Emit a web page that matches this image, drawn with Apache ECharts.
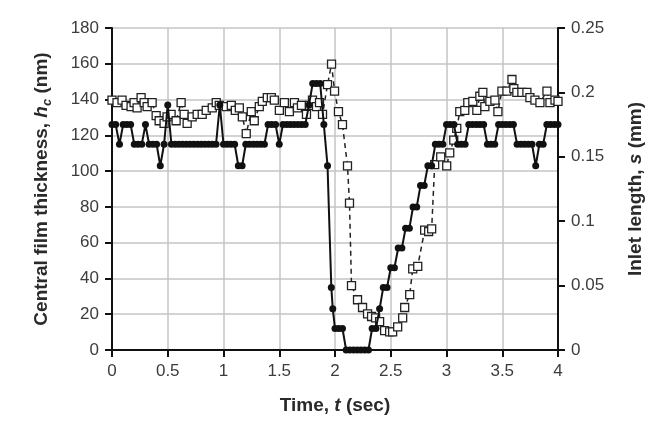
<!DOCTYPE html>
<html>
<head>
<meta charset="utf-8">
<script src="https://cdn.jsdelivr.net/npm/echarts@6/dist/echarts.min.js"></script>
<style>html,body{margin:0;padding:0;background:#fff}#c{width:668px;height:428px}</style>
</head>
<body>
<div id="c"></div>
<script>
// Central film thickness hc (nm), filled circles, left axis
var hcTime = [0.000,0.033,0.067,0.100,0.133,0.167,0.200,0.233,0.267,0.300,
0.333,0.367,0.400,0.433,0.467,0.500,0.533,0.567,0.600,0.633,
0.667,0.700,0.733,0.767,0.800,0.833,0.867,0.900,0.933,0.967,
1.000,1.033,1.067,1.100,1.133,1.167,1.200,1.233,1.267,1.300,
1.333,1.367,1.400,1.433,1.467,1.500,1.533,1.567,1.600,1.633,
1.667,1.700,1.733,1.767,1.800,1.833,1.867,1.900,1.933,1.967,1.980,
2.000,2.033,2.067,2.100,2.133,2.167,2.200,2.233,2.267,2.300,
2.333,2.367,2.400,2.433,2.467,2.500,2.533,2.567,2.600,2.633,
2.667,2.700,2.733,2.767,2.800,2.833,2.867,2.900,2.933,2.967,
3.000,3.033,3.067,3.100,3.133,3.167,3.200,3.233,3.267,3.300,
3.333,3.367,3.400,3.433,3.467,3.500,3.533,3.567,3.600,3.633,
3.667,3.700,3.733,3.767,3.800,3.833,3.867,3.900,3.933,3.967,4.000];
var hcValue = [126,126,115,126,126,126,115,115,115,126,
115,115,115,103,115,137,115,115,115,115,
115,115,115,115,115,115,115,115,115,137,
115,115,115,115,103,103,115,115,115,115,
115,115,126,126,126,115,126,126,126,126,
126,126,126,137,149,149,149,126,103,35,23,
12,12,12,0,0,0,0,0,0,0,
12,12,23,35,35,46,46,57,57,68,
68,80,80,92,92,103,103,115,115,115,
126,126,126,115,115,115,126,126,126,126,
126,115,115,115,126,126,126,126,126,115,
115,115,115,115,103,115,115,126,126,126,126];

// Inlet length s (mm), open squares, right axis
var sTime = [0.000,0.045,0.090,0.126,0.171,0.198,0.225,0.261,0.288,0.315,
0.360,0.396,0.423,0.467,0.494,0.530,0.575,0.620,0.647,0.674,
0.719,0.764,0.809,0.845,0.899,0.935,0.962,1.025,1.070,1.106,
1.142,1.169,1.204,1.249,1.276,1.321,1.348,1.393,1.429,1.456,
1.501,1.546,1.591,1.636,1.663,1.699,1.744,1.771,1.798,1.834,
1.861,1.888,1.933,1.969,1.996,2.031,2.067,2.112,2.130,2.148,
2.202,2.247,2.292,2.328,2.364,2.400,2.445,2.490,2.517,2.562,
2.607,2.625,2.670,2.697,2.742,2.804,2.840,2.867,2.894,2.948,
3.002,3.029,3.065,3.092,3.119,3.164,3.191,3.236,3.272,3.299,
3.326,3.344,3.389,3.434,3.461,3.497,3.542,3.587,3.604,3.631,
3.676,3.721,3.748,3.793,3.838,3.901,3.928,3.973,4.000];
var sValue = [0.194,0.192,0.194,0.190,0.189,0.192,0.188,0.196,0.192,0.189,
0.192,0.182,0.178,0.176,0.181,0.183,0.178,0.192,0.183,0.176,
0.181,0.183,0.183,0.186,0.188,0.192,0.190,0.189,0.190,0.186,
0.188,0.181,0.168,0.185,0.178,0.189,0.193,0.196,0.196,0.194,
0.186,0.192,0.185,0.192,0.188,0.190,0.183,0.190,0.194,0.189,
0.192,0.183,0.206,0.222,0.201,0.185,0.175,0.143,0.114,0.050,
0.039,0.033,0.028,0.026,0.025,0.022,0.015,0.014,0.014,0.018,
0.025,0.033,0.043,0.063,0.065,0.093,0.092,0.094,0.144,0.150,
0.143,0.153,0.163,0.172,0.185,0.186,0.192,0.193,0.186,0.197,
0.200,0.189,0.193,0.194,0.185,0.201,0.201,0.210,0.203,0.200,
0.200,0.200,0.196,0.194,0.192,0.201,0.192,0.194,0.193];

var xTicks = {min: 0, max: 4, interval: 0.5};
var leftTicks = {min: 0, max: 180, interval: 20};
var rightTicks = {min: 0, max: 0.25, interval: 0.05};

function pairs(t, v) { return t.map(function (x, i) { return [x, v[i]]; }); }

var FONT = 'Arial, "Liberation Sans", sans-serif';
var labelStyle = {color: '#3c3c3c', fontSize: 17, fontFamily: FONT};
var nameRich = {
  b: {fontWeight: 'bold', fontSize: 19, color: '#2a2a2a', fontFamily: FONT, lineHeight: 24},
  i: {fontWeight: 'bold', fontStyle: 'italic', fontSize: 19, color: '#2a2a2a', fontFamily: FONT, lineHeight: 24},
  sub: {fontWeight: 'bold', fontStyle: 'italic', fontSize: 13, color: '#2a2a2a', fontFamily: FONT, lineHeight: 24, verticalAlign: 'bottom', padding: [8, 0, 0, 0]}
};
var axisLineStyle = {color: '#111', width: 2};
var tickStyle = {show: true, length: 7, lineStyle: {color: '#111', width: 2}};

var chart = echarts.init(document.getElementById('c'));
chart.setOption({
  animation: false,
  backgroundColor: '#fff',
  grid: {left: 112, right: 110, top: 28, bottom: 78},
  xAxis: {
    type: 'value', min: xTicks.min, max: xTicks.max, interval: xTicks.interval,
    name: '{b|Time, }{i|t}{b| (sec)}', nameLocation: 'middle', nameGap: 44,
    nameTextStyle: {rich: nameRich},
    axisLine: {lineStyle: axisLineStyle},
    axisTick: tickStyle,
    axisLabel: Object.assign({margin: 13}, labelStyle),
    splitLine: {show: true, lineStyle: {color: '#c4c4c4', width: 1.5}}
  },
  yAxis: [{
    type: 'value', min: leftTicks.min, max: leftTicks.max, interval: leftTicks.interval,
    position: 'left',
    name: '{b|Central film thickness, }{i|h}{sub|c}{b| (nm)}', nameLocation: 'middle', nameGap: 58, nameRotate: 90,
    nameTextStyle: {rich: nameRich},
    axisLine: {show: true, lineStyle: axisLineStyle},
    axisTick: tickStyle,
    axisLabel: Object.assign({margin: 13}, labelStyle),
    splitLine: {show: true, lineStyle: {color: '#c4c4c4', width: 1.5}}
  }, {
    type: 'value', min: rightTicks.min, max: rightTicks.max, interval: rightTicks.interval,
    position: 'right',
    name: '{b|Inlet length, }{i|s}{b| (mm)}', nameLocation: 'middle', nameGap: 66, nameRotate: 90,
    nameTextStyle: {rich: nameRich},
    axisLine: {show: true, lineStyle: axisLineStyle},
    axisTick: tickStyle,
    axisLabel: Object.assign({margin: 13}, labelStyle),
    splitLine: {show: false}
  }],
  series: [{
    name: 'Inlet length', type: 'line', yAxisIndex: 1,
    data: pairs(sTime, sValue),
    symbol: 'rect', symbolSize: 8, showSymbol: true,
    lineStyle: {color: '#222', width: 1.5, type: [5, 4]},
    itemStyle: {color: '#fff', borderColor: '#222', borderWidth: 1.3},
    z: 2
  }, {
    name: 'Central film thickness', type: 'line', yAxisIndex: 0,
    data: pairs(hcTime, hcValue),
    symbol: 'circle', symbolSize: 7, showSymbol: true,
    lineStyle: {color: '#111', width: 2},
    itemStyle: {color: '#111', borderWidth: 0},
    z: 3
  }]
});
</script>
</body>
</html>
